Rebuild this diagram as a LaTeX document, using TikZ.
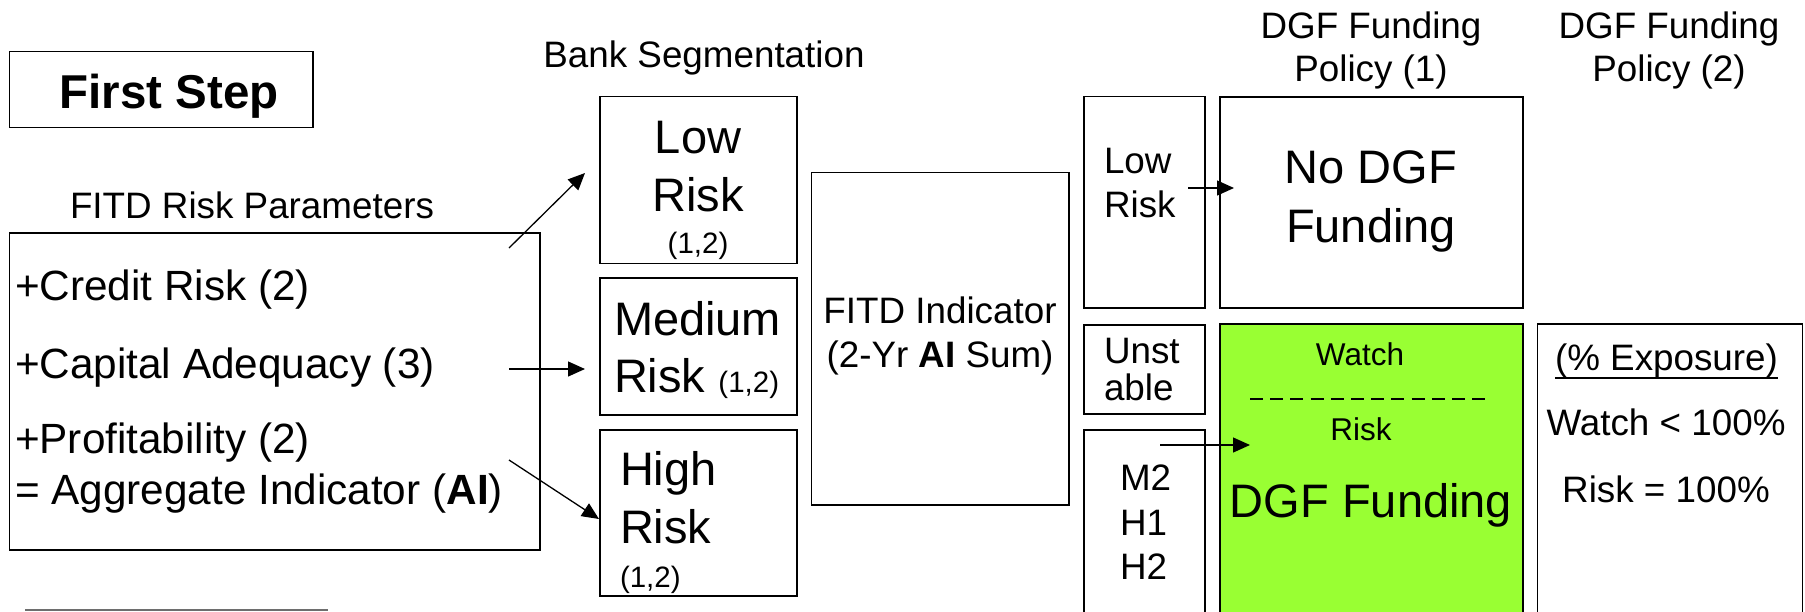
\documentclass[tikz,border=0pt]{standalone}
\usepackage{fontspec}
\setmainfont{Liberation Sans}
\usetikzlibrary{arrows.meta}
\definecolor{fundgreen}{RGB}{153,255,51}
\definecolor{edgegray}{RGB}{110,110,110}
\begin{document}
\begin{tikzpicture}[x=1pt,y=-1pt,
  box/.style={draw=black, line width=1.5pt, inner sep=0pt, outer sep=0pt, anchor=north west},
  lbl/.style={inner sep=0pt, outer sep=0pt, anchor=base},
  lbw/.style={inner sep=0pt, outer sep=0pt, anchor=base west},
  fA/.style={font=\fontsize{36.8}{44}\selectfont},
  fB/.style={font=\fontsize{47}{56}\selectfont},
  fC/.style={font=\fontsize{42.3}{50}\selectfont},
  fS/.style={font=\fontsize{29.5}{35}\selectfont},
  fW/.style={font=\fontsize{31.5}{38}\selectfont},
  arr/.style={line width=1.3pt, -{Triangle[length=17pt,width=15pt]}},
]
\useasboundingbox (0,0) rectangle (1805,611);
\clip (0,0) rectangle (1805,611);

% ---- boxes ----
\node[box, minimum width=303.4pt, minimum height=75.6pt] (first) at (9.6,51.7) {};
\node[box, minimum width=530.4pt, minimum height=317pt] (params) at (9.6,233) {};
\node[box, minimum width=197pt, minimum height=166.6pt] (low) at (600,96.7) {};
\node[box, minimum width=197pt, minimum height=137pt] (med) at (600,278) {};
\node[box, minimum width=197pt, minimum height=166pt] (high) at (600,430) {};
\node[box, minimum width=257.5pt, minimum height=332.3pt] (fitd) at (811.5,172.7) {};
\node[box, minimum width=121pt, minimum height=211.3pt] (lowr) at (1084,96.7) {};
\node[box, minimum width=121pt, minimum height=89pt] (unst) at (1084,325) {};
\node[box, minimum width=121pt, minimum height=220pt] (mhh) at (1084,430) {};
\node[box, minimum width=303pt, minimum height=211pt] (nodgf) at (1220,97) {};
\node[box, fill=fundgreen, minimum width=303pt, minimum height=320pt] (dgf) at (1220,324) {};
\node[box, minimum width=265pt, minimum height=320pt] (expo) at (1537.5,324) {};
\coordinate (grayL) at (25,610);
\coordinate (grayR) at (328,610);
\draw[edgegray, line width=2pt] (grayL) -- (grayR);

% ---- titles ----
\node[lbl, font=\fontsize{47.5}{56}\selectfont\bfseries] (firstT) at (169,108.5) {First Step};
\node[lbw, fA] (paramsT) at (70,218) {FITD Risk Parameters};
\node[lbl, fA] (segT) at (704,67) {Bank Segmentation};
\node[lbl, fA] (pol1a) at (1371,38) {DGF Funding};
\node[lbl, fA] (pol1b) at (1371,81) {Policy (1)};
\node[lbl, fA] (pol2a) at (1669,38) {DGF Funding};
\node[lbl, fA] (pol2b) at (1669,81) {Policy (2)};

% ---- parameters ----
\node[lbw, fC] (p1) at (15,300) {+Credit Risk (2)};
\node[lbw, fC] (p2) at (15,378) {+Capital Adequacy (3)};
\node[lbw, fC] (p3) at (15,453) {+Profitability (2)};
\node[lbw, fC] (p4) at (15,504) {= Aggregate Indicator (\textbf{AI})};

% ---- segmentation ----
\node[lbl, fB] (lowA) at (698,153) {Low};
\node[lbl, fB] (lowB) at (698,211) {Risk};
\node[lbl, fS] (lowC) at (698,253) {(1,2)};
\node[lbw, fB] (medA) at (614,335) {Medium};
\node[lbw, fB] (medB) at (614,392) {Risk {\fontsize{29.5}{35}\selectfont(1,2)}};
\node[lbw, fB] (highA) at (620,485) {High};
\node[lbw, fB] (highB) at (620,543) {Risk};
\node[lbw, fS] (highC) at (620,587) {(1,2)};

% ---- indicator ----
\node[lbl, fA] (fitdA) at (940,323) {FITD Indicator};
\node[lbl, fA] (fitdB) at (940,367) {(2-Yr \textbf{AI} Sum)};

% ---- right categories ----
\node[lbw, fA] (lrA) at (1104,173) {Low};
\node[lbw, fA] (lrB) at (1104,217) {Risk};
\node[lbw, fA] (unA) at (1104,363) {Unst};
\node[lbw, fA] (unB) at (1104,400) {able};
\node[lbw, fA] (m2) at (1120,490) {M2};
\node[lbw, fA] (h1) at (1120,535) {H1};
\node[lbw, fA] (h2) at (1120,579) {H2};

% ---- policy 1 ----
\node[lbl, fB] (ndA) at (1371,183) {No DGF};
\node[lbl, fB] (ndB) at (1371,242) {Funding};
\node[lbl, fW] (watch) at (1360,365) {Watch};
\coordinate (dashL) at (1250,399);
\coordinate (dashR) at (1485,399);
\draw[line width=1.4pt, dash pattern=on 13pt off 7.2pt] (dashL) -- (dashR);
\node[lbl, fW] (riskW) at (1361,440) {Risk};
\node[lbl, fB] (dgfT) at (1371,517) {DGF Funding};

% ---- policy 2 ----
\node[lbl, fA] (ex1) at (1666.5,370) {(\% Exposure)};
\draw[line width=2pt] ([yshift=-7.5pt]ex1.base west) -- ([yshift=-7.5pt]ex1.base east);
\node[lbl, fA] (ex2) at (1666,435) {Watch < 100\%};
\node[lbl, fA] (ex3) at (1666,502) {Risk = 100\%};

% ---- connectors ----
\coordinate (a1s) at (509,248); \coordinate (a1e) at (585,173);
\coordinate (a2s) at (509,369); \coordinate (a2e) at (585,369);
\coordinate (a3s) at (509,460); \coordinate (a3e) at (599,519);
\coordinate (a4s) at (1188,188); \coordinate (a4e) at (1234,188);
\coordinate (a5s) at (1160,445); \coordinate (a5e) at (1250,445);
\draw[arr] (a1s) -- (a1e);
\draw[arr] (a2s) -- (a2e);
\draw[arr] (a3s) -- (a3e);
\draw[arr] (a4s) -- (a4e);
\draw[arr] (a5s) -- (a5e);
\end{tikzpicture}
\end{document}
